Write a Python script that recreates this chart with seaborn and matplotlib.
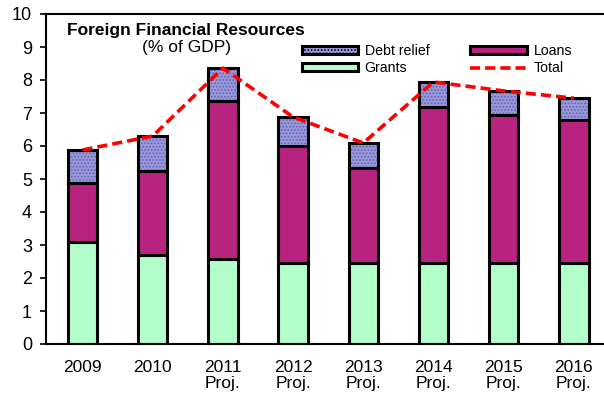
import matplotlib
matplotlib.use("Agg")
import matplotlib.pyplot as plt
import seaborn as sns
import numpy as np
from matplotlib.patches import Patch
from matplotlib.lines import Line2D

years = ["2009", "2010", "2011\nProj.", "2012\nProj.", "2013\nProj.", "2014\nProj.", "2015\nProj.", "2016\nProj."]
grants = [3.09, 2.70, 2.58, 2.45, 2.45, 2.45, 2.45, 2.45]
loans = [1.79, 2.54, 4.78, 3.55, 2.88, 4.73, 4.49, 4.34]
debt_relief = [1.00, 1.06, 1.00, 0.88, 0.76, 0.76, 0.73, 0.66]
total = [5.88, 6.30, 8.36, 6.88, 6.09, 7.94, 7.67, 7.45]

sns.set_style("white")
plt.rcParams['font.family'] = ['Liberation Sans', 'DejaVu Sans']
plt.rcParams['text.color'] = 'black'
plt.rcParams['xtick.color'] = 'black'
plt.rcParams['ytick.color'] = 'black'
plt.rcParams['axes.labelcolor'] = 'black'
plt.rcParams['hatch.color'] = '#6262b0'
plt.rcParams['hatch.linewidth'] = 0.8

c_debt = '#9898da'
c_loans = '#b8237f'
c_grants = '#b3ffcc'

fig = plt.figure(figsize=(6.04, 3.97), dpi=100)
ax = fig.add_axes([46/604, 1-344/397, 1-46/604, (344-14)/397])

g = np.array(grants)
l = np.array(loans)

bw = 0.42
sns.barplot(x=years, y=grants, color=c_grants, saturation=1, width=bw,
            edgecolor='black', linewidth=2.2, ax=ax, zorder=2)
sns.barplot(x=years, y=loans, bottom=g, color=c_loans, saturation=1, width=bw,
            edgecolor='black', linewidth=2.2, ax=ax, zorder=2)
sns.barplot(x=years, y=debt_relief, bottom=g + l, color=c_debt, saturation=1, width=bw,
            edgecolor='#6262b0', linewidth=0, hatch='.....', ax=ax, zorder=2)
n_before = len(ax.patches)
sns.barplot(x=years, y=debt_relief, bottom=g + l, color='black', saturation=1, width=bw,
            edgecolor='black', linewidth=2.2, ax=ax, zorder=3)
for p in ax.patches[n_before:]:
    p.set_facecolor('none')
sns.lineplot(x=np.arange(len(years)), y=total, color='#ff0000', linewidth=2.6,
             ax=ax, zorder=4)
ax.lines[-1].set_dashes([2.8, 1.4])

ax.set_ylim(0, 10)
ax.set_xlim(-0.52, 7.43)
ax.set_yticks(range(0, 11))
ax.tick_params(axis='y', which='both', left=True, length=4, width=1.2, direction='out',
               labelsize=13, pad=6, colors='black')
ax.tick_params(axis='x', bottom=False, labelsize=12.5, pad=8, colors='black')
for t in ax.get_xticklabels():
    t.set_linespacing(1.1)
for s in ['left', 'bottom', 'top']:
    ax.spines[s].set_linewidth(1.5)
    ax.spines[s].set_color('black')
ax.spines['right'].set_visible(False)
ax.set_xlabel('')
ax.set_ylabel('')

ax.text(0.038, 0.951, "Foreign Financial Resources", transform=ax.transAxes,
        fontsize=12.5, fontweight='bold', ha='left', va='center', color='black')
ax.text(0.251, 0.897, "(% of GDP)", transform=ax.transAxes,
        fontsize=12.5, ha='center', va='center', color='black')

handles = [
    Patch(facecolor=c_debt, edgecolor='black', linewidth=2.2, hatch='.....'),
    Patch(facecolor=c_grants, edgecolor='black', linewidth=2.2),
    Patch(facecolor=c_loans, edgecolor='black', linewidth=2.2),
    Line2D([0], [0], color='#ff0000', linewidth=2.6, dashes=[2.8, 1.4]),
]
labels = ["Debt relief", "Grants", "Loans", "Total"]
leg = ax.legend(handles, labels, ncol=2, loc='upper left', bbox_to_anchor=(0.458, 0.908),
                frameon=False, fontsize=10.2, handlelength=4.0, handleheight=0.5,
                handletextpad=0.45, columnspacing=2.9, labelspacing=0.2, borderaxespad=0,
                borderpad=0, labelcolor='black')

fig.savefig("out.png", dpi=100)
